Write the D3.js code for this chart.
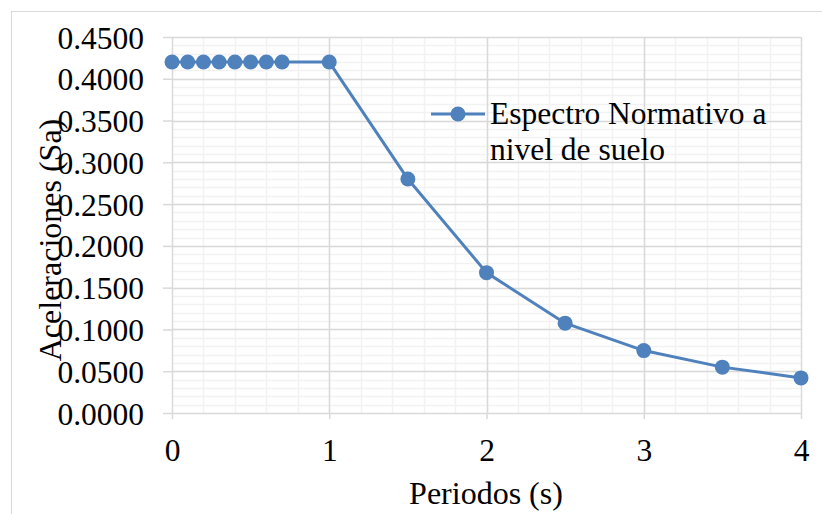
<!DOCTYPE html>
<meta charset="utf-8">
<head>
<style>
  body { margin: 0; background: #fff; }
  svg { display: block; }
  .tick text, .title, .legend text {
    font-family: "Liberation Serif", "Times New Roman", serif;
    font-size: 31.5px;
    fill: #000;
  }
  .title { font-size: 32px; }
</style>
<script src="https://d3js.org/d3.v7.min.js"></script>
</head>
<body>
<svg width="822" height="514"></svg>
<script>
// Data
var periods = [0, 0.1, 0.2, 0.3, 0.4, 0.5, 0.6, 0.7, 1, 1.5, 2, 2.5, 3, 3.5, 4];
var accels  = [0.42, 0.42, 0.42, 0.42, 0.42, 0.42, 0.42, 0.42, 0.42, 0.28, 0.168, 0.1075, 0.0747, 0.0549, 0.042];
var xTicks = [0, 1, 2, 3, 4];
var yTicks = [0, 0.05, 0.1, 0.15, 0.2, 0.25, 0.3, 0.35, 0.4, 0.45];
var seriesName = ["Espectro Normativo a", "nivel de suelo"];

var svg = d3.select("svg"),
    margin = {top: 37, right: 21, bottom: 101, left: 172},
    width = +svg.attr("width") - margin.left - margin.right,
    height = +svg.attr("height") - margin.top - margin.bottom;

var blue = "#4f81bd";

// chart border
svg.append("rect")
    .attr("x", 11.5).attr("y", 11.5)
    .attr("width", 830).attr("height", 530)
    .attr("fill", "none")
    .attr("stroke", "#d9d9d9");

var g = svg.append("g").attr("transform", "translate(" + margin.left + "," + margin.top + ")");

var x = d3.scaleLinear().domain([0, 4]).range([0, width]);
var y = d3.scaleLinear().domain([0, 0.45]).range([height, 0]);

// minor grid
g.append("g").selectAll("line")
    .data(d3.range(1, 45).map(function(i) { return i / 100; }))
    .enter().append("line")
    .attr("x1", 0).attr("x2", width)
    .attr("y1", function(d) { return Math.round(y(d)) + 0.5; })
    .attr("y2", function(d) { return Math.round(y(d)) + 0.5; })
    .attr("stroke", "#f2f2f2").attr("stroke-width", 1.5);
g.append("g").selectAll("line")
    .data(d3.range(1, 20).map(function(i) { return i / 5; }))
    .enter().append("line")
    .attr("y1", 0).attr("y2", height)
    .attr("x1", function(d) { return Math.round(x(d)) + 0.5; })
    .attr("x2", function(d) { return Math.round(x(d)) + 0.5; })
    .attr("stroke", "#f2f2f2").attr("stroke-width", 1.5);

// major grid
g.append("g").selectAll("line")
    .data(yTicks)
    .enter().append("line")
    .attr("x1", 0).attr("x2", width)
    .attr("y1", function(d) { return Math.round(y(d)) + 0.5; })
    .attr("y2", function(d) { return Math.round(y(d)) + 0.5; })
    .attr("stroke", "#d9d9d9").attr("stroke-width", 1.5);
g.append("g").selectAll("line")
    .data(xTicks)
    .enter().append("line")
    .attr("y1", 0).attr("y2", height)
    .attr("x1", function(d) { return Math.round(x(d)) + 0.5; })
    .attr("x2", function(d) { return Math.round(x(d)) + 0.5; })
    .attr("stroke", "#d9d9d9").attr("stroke-width", 1.5);

// axes
var yAxis = g.append("g")
    .call(d3.axisLeft(y).tickValues(yTicks).tickFormat(d3.format(".4f")).tickSize(9).tickPadding(19));
yAxis.select(".domain").remove();
yAxis.selectAll(".tick line").attr("stroke", "#d9d9d9").attr("stroke-width", 1.5);
yAxis.selectAll(".tick text").attr("dy", "0.35em");

var xAxis = g.append("g")
    .attr("transform", "translate(0," + height + ")")
    .call(d3.axisBottom(x).tickValues(xTicks).tickFormat(d3.format("d")).tickSize(6));
xAxis.select(".domain").remove();
xAxis.selectAll(".tick line").attr("stroke", "#d9d9d9").attr("stroke-width", 1.5);
xAxis.selectAll(".tick text").attr("y", 48).attr("dy", null);

// line + markers
var line = d3.line()
    .x(function(d, i) { return x(periods[i]); })
    .y(function(d) { return y(d); });

g.append("path")
    .datum(accels)
    .attr("fill", "none")
    .attr("stroke", blue)
    .attr("stroke-width", 3)
    .attr("stroke-linejoin", "round")
    .attr("d", line);

g.append("g").selectAll("circle")
    .data(accels)
    .enter().append("circle")
    .attr("cx", function(d, i) { return x(periods[i]); })
    .attr("cy", function(d) { return y(d); })
    .attr("r", 7.5)
    .attr("fill", blue);

// axis titles
svg.append("text")
    .attr("class", "title")
    .attr("x", 486).attr("y", 504)
    .attr("text-anchor", "middle")
    .text("Periodos (s)");

svg.append("text")
    .attr("class", "title")
    .attr("transform", "translate(61,240) rotate(-90)")
    .attr("text-anchor", "middle")
    .text("Aceleraciones (Sa)");

// legend
var lg = svg.append("g").attr("class", "legend");
lg.append("line")
    .attr("x1", 431).attr("x2", 485)
    .attr("y1", 114).attr("y2", 114)
    .attr("stroke", blue).attr("stroke-width", 3);
lg.append("circle")
    .attr("cx", 458).attr("cy", 114).attr("r", 7.5).attr("fill", blue);
lg.selectAll("text")
    .data(seriesName)
    .enter().append("text")
    .attr("x", 490)
    .attr("y", function(d, i) { return 124 + i * 36; })
    .text(function(d) { return d; });
</script>
</body>
